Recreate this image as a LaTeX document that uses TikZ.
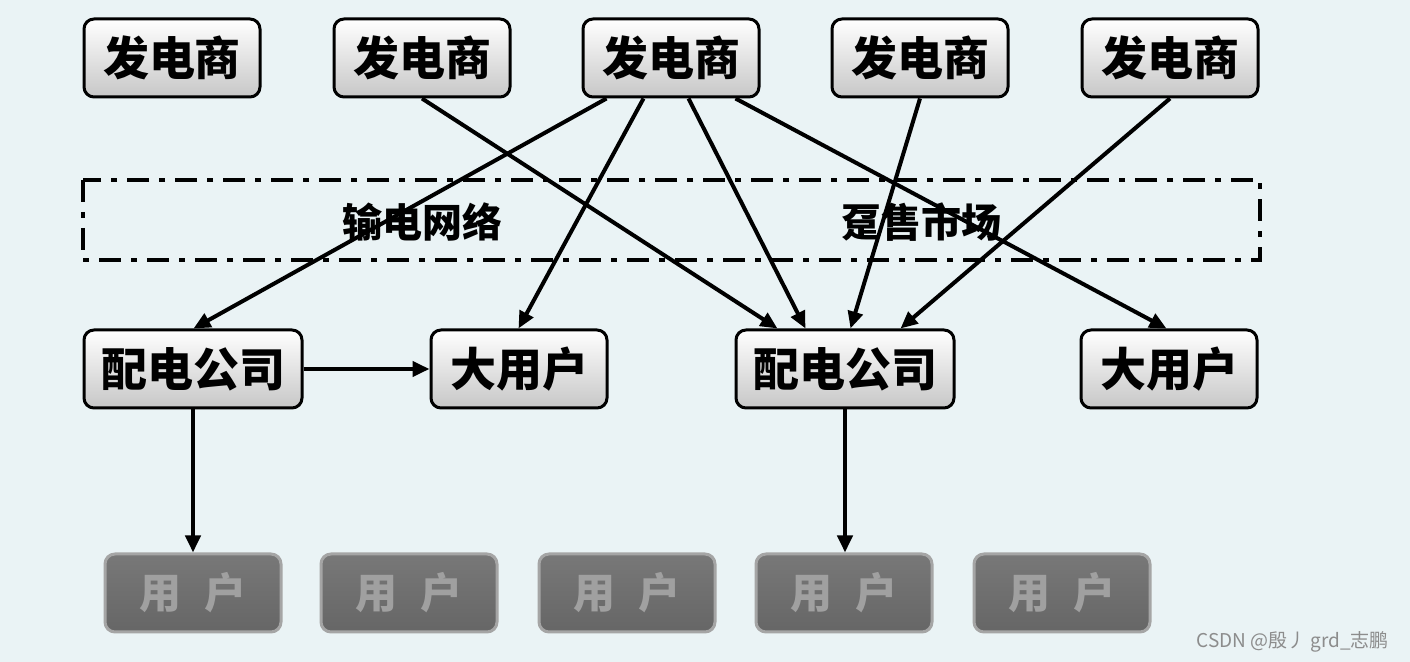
\documentclass[tikz,border=0pt]{standalone}
\usepackage{fontspec}
\newfontfamily\cjk{Noto Sans CJK SC}
\usetikzlibrary{arrows.meta,calc}
\definecolor{bg}{RGB}{234,243,245}
\definecolor{ugray}{RGB}{120,120,120}
\definecolor{ugrayd}{RGB}{102,102,102}
\definecolor{utext}{RGB}{160,160,160}
\definecolor{uborder}{RGB}{165,165,165}
\tikzset{
  box/.style={draw=black, line width=1.5pt, rounded corners=5pt, top color=white, bottom color=black!22,
    minimum width=88pt, minimum height=39pt, inner sep=0pt, font=\cjk\bfseries\fontsize{23}{23}\selectfont},
  wbox/.style={box, minimum width=109pt},
  ubox/.style={draw=uborder, line width=1.5pt, rounded corners=5pt, top color=ugray, bottom color=ugrayd,
    minimum width=88pt, minimum height=39pt, inner sep=0pt, text=utext, font=\cjk\bfseries\fontsize{21}{21}\selectfont},
  conn/.style={line width=2pt, -{Triangle[length=8.5pt,width=7.5pt]}},
  lbl/.style={font=\cjk\bfseries\fontsize{20}{20}\selectfont},
}
\begin{document}
\begin{tikzpicture}[x=0.5pt,y=-0.5pt]
\useasboundingbox (0,0) rectangle (1410,662);
\fill[bg] (0,0) rectangle (1410,662);
% dashed region
\draw[line width=1.9pt, dash pattern=on 11pt off 5pt on 3pt off 5pt] (83,180) rectangle (1260,260);
\node[lbl] (t1) at (422,222) {输电网络};
\node[lbl] (t2) at (921,222) {趸售市场};
% top row
\node[box] (b1) at (172,58) {发电商};
\node[box] (b2) at (422,58) {发电商};
\node[box] (b3) at (671,58) {发电商};
\node[box] (b4) at (920,58) {发电商};
\node[box] (b5) at (1170,58) {发电商};
% middle row
\node[wbox] (m1) at (193,369) {配电公司};
\node[box] (m2) at (519,369) {大用户};
\node[wbox] (m3) at (845,369) {配电公司};
\node[box] (m4) at (1169,369) {大用户};
% bottom row
\node[ubox] (u1) at (193,593) {用\hspace{0.55em}户};
\node[ubox] (u2) at (409,593) {用\hspace{0.55em}户};
\node[ubox] (u3) at (627,593) {用\hspace{0.55em}户};
\node[ubox] (u4) at (844,593) {用\hspace{0.55em}户};
\node[ubox] (u5) at (1062,593) {用\hspace{0.55em}户};
% connectors
\draw[conn] (b2.south) -- ($(m3.north west)+(43,0)$);
\draw[conn] ($(b3.south west)+(25,0)$) -- ($(m1.north west)+(111,0)$);
\draw[conn] ($(b3.south west)+(62,0)$) -- ($(m2.north west)+(89,0)$);
\draw[conn] ($(b3.south west)+(107,0)$) -- ($(m3.north west)+(71,0)$);
\draw[conn] ($(b3.south west)+(154,0)$) -- ($(m4.north west)+(87,0)$);
\draw[conn] (b4.south) -- ($(m3.north west)+(116,0)$);
\draw[conn] (b5.south) -- ($(m3.north west)+(166,0)$);
\draw[conn] (m1.east) -- (m2.west);
\draw[conn] (m1.south) -- (m1.south |- u1.north);
\draw[conn] (m3.south) -- (m3.south |- u4.north);
% watermark
\node[font=\cjk\fontsize{9.5}{9.5}\selectfont, text=black!45, anchor=east] (wm) at (1396,642) {CSDN @殷丿 grd\_志鹏};
\end{tikzpicture}
\end{document}
